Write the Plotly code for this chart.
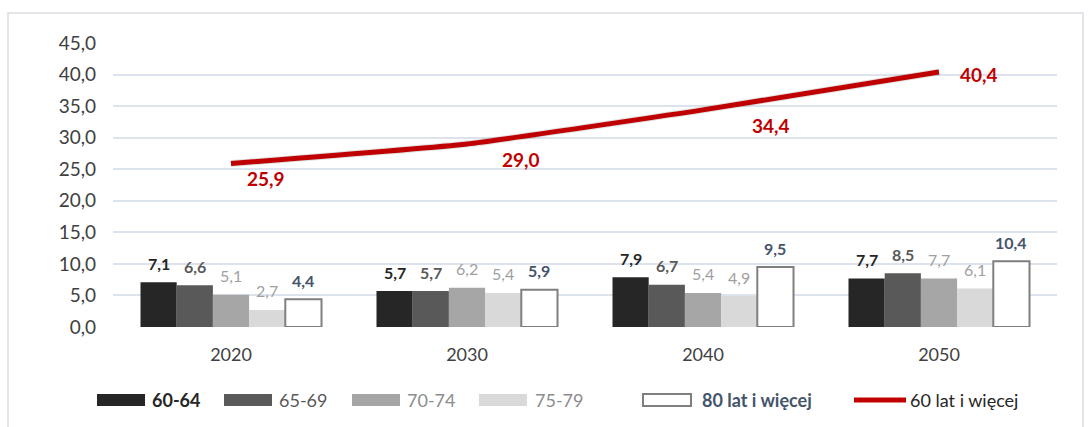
import plotly.graph_objects as go

# Population shares (%) by age group and year
years = ["2020", "2030", "2040", "2050"]
age_groups = ["60-64", "65-69", "70-74", "75-79", "80 lat i więcej"]
v_60_64 = [7.1, 5.7, 7.9, 7.7]
v_65_69 = [6.6, 5.7, 6.7, 8.5]
v_70_74 = [5.1, 6.2, 5.4, 7.7]
v_75_79 = [2.7, 5.4, 4.9, 6.1]
v_80_plus = [4.4, 5.9, 9.5, 10.4]
total_name = "60 lat i więcej"
v_total = [25.9, 29.0, 34.4, 40.4]
y_ticks = [0, 5, 10, 15, 20, 25, 30, 35, 40, 45]

series = [v_60_64, v_65_69, v_70_74, v_75_79, v_80_plus]
fills = ["#262626", "#595959", "#a6a6a6", "#d9d9d9", "#ffffff"]
outlines = ["#262626", "#595959", "#a6a6a6", "#d9d9d9", "#7f7f7f"]
label_colors = ["#262626", "#595959", "#a0a0a0", "#a0a0a0", "#44546a"]
label_bold = [True, True, False, False, True]
legend_colors = ["#262626", "#595959", "#8c8c8c", "#8c8c8c", "#44546a"]

FONT = "Lato, 'Open Sans', sans-serif"
W, H = 1089, 427
ML, MR, MT, MB = 113, 32, 43, 100
PW, PH = W - ML - MR, H - MT - MB

GROUP = 0.767
bw = GROUP / len(series)
xs = list(range(len(years)))

fig = go.Figure()
annotations = []
for k, (name, vals) in enumerate(zip(age_groups, series)):
    off = -GROUP / 2 + k * bw
    fig.add_trace(go.Bar(
        x=xs, y=vals, name=name, width=bw, offset=off,
        marker=dict(color=fills[k],
                    line=dict(color=outlines[k], width=2 if k == 4 else 0)),
        showlegend=False,
    ))
    for i, v in enumerate(vals):
        txt = f"{v:.1f}".replace(".", ",")
        if label_bold[k]:
            txt = f"<b>{txt}</b>"
        annotations.append(dict(
            x=i + off + bw / 2, y=v, xref="x", yref="y", text=txt,
            showarrow=False, yanchor="middle", yshift=19,
            font=dict(family=FONT, size=16, color=label_colors[k]),
        ))

# Light shadow under the total line
fig.add_trace(go.Scatter(
    x=xs, y=v_total, mode="lines", hoverinfo="skip",
    line=dict(color="rgba(0,0,0,0.12)", width=7, shape="spline", smoothing=0.4),
    showlegend=False,
))
fig.add_trace(go.Scatter(
    x=xs, y=v_total, name=total_name, mode="lines",
    line=dict(color="#c00000", width=5, shape="spline", smoothing=0.4),
    showlegend=False,
))
line_offsets = [(35, -15), (54, -16), (68, -16), (40, -2)]
for i, v in enumerate(v_total):
    dx, dy = line_offsets[i]
    annotations.append(dict(
        x=i, y=v, xref="x", yref="y",
        text="<b>" + f"{v:.1f}".replace(".", ",") + "</b>",
        showarrow=False, xshift=dx, yshift=dy,
        font=dict(family=FONT, size=19, color="#c00000"),
    ))


def px_x(p):
    return (p - ML) / PW


def px_y(p):
    return (H - MB - p) / PH


# Hand-built legend with wide swatches
shapes = []
legend_items = [(97, 150), (224, 277), (352, 405), (479, 533), (643, 700)]
for k, (sx, tx) in enumerate(legend_items):
    shapes.append(dict(
        type="rect", xref="paper", yref="paper",
        x0=px_x(sx), x1=px_x(sx + 48), y0=px_y(406), y1=px_y(394),
        fillcolor=fills[k],
        line=dict(color=outlines[k], width=2 if k == 4 else 0),
    ))
    weight = "<b>%s</b>" if k in (0, 4) else "%s"
    annotations.append(dict(
        x=px_x(tx), y=px_y(400), xref="paper", yref="paper",
        text=weight % age_groups[k], showarrow=False,
        xanchor="left", yanchor="middle",
        font=dict(family=FONT, size=18, color=legend_colors[k]),
    ))
shapes.append(dict(
    type="line", xref="paper", yref="paper",
    x0=px_x(854), x1=px_x(906), y0=px_y(400), y1=px_y(400),
    line=dict(color="#c00000", width=5),
))
annotations.append(dict(
    x=px_x(908), y=px_y(400), xref="paper", yref="paper",
    text=total_name, showarrow=False, xanchor="left", yanchor="middle",
    font=dict(family=FONT, size=18, color="#262626"),
))
# Outer chart frame
shapes.append(dict(
    type="rect", xref="paper", yref="paper",
    x0=px_x(8), x1=px_x(1083), y0=px_y(440), y1=px_y(13),
    line=dict(color="#d9dde3", width=1.5), fillcolor="rgba(0,0,0,0)",
    layer="below",
))

fig.update_layout(
    width=W, height=H,
    margin=dict(l=ML, r=MR, t=MT, b=MB),
    paper_bgcolor="white", plot_bgcolor="white",
    separators=", ",
    barmode="overlay",
    font=dict(family=FONT, size=18, color="#404040"),
    annotations=annotations,
    shapes=shapes,
    xaxis=dict(
        tickmode="array", tickvals=xs, ticktext=years,
        range=[-0.5, len(years) - 0.5],
        showgrid=False, zeroline=False, showline=False,
        ticks="", ticklabelstandoff=15,
        tickfont=dict(family=FONT, size=18, color="#404040"),
    ),
    yaxis=dict(
        range=[0, 45], tickvals=y_ticks, tickformat=".1f",
        showgrid=True, gridcolor="#dde3ec", gridwidth=2,
        zeroline=False, showline=False, ticks="",
        ticklabelstandoff=16,
        tickfont=dict(family=FONT, size=19, color="#404040"),
    ),
)

fig.write_html("out.html")
